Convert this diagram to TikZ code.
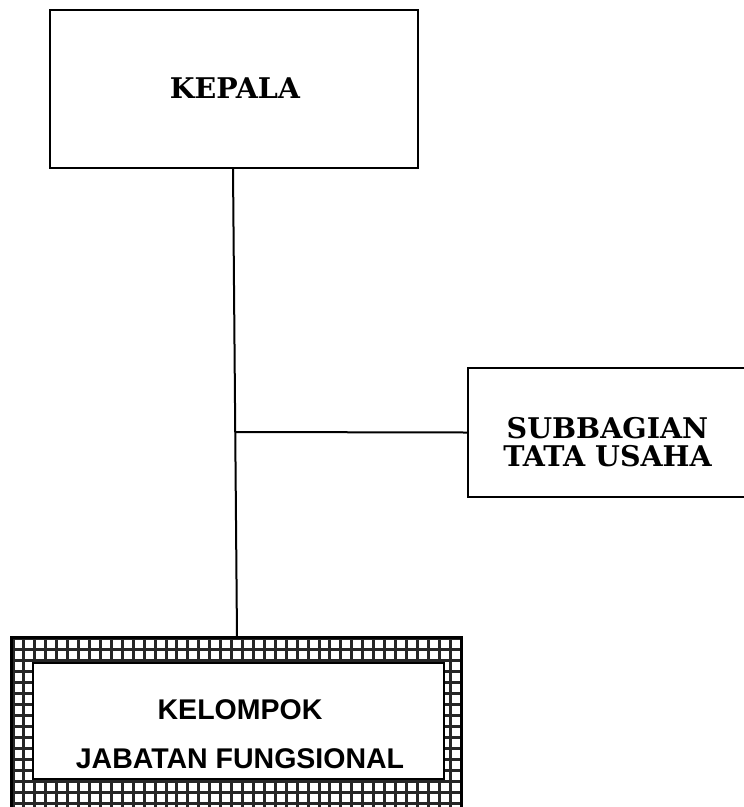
\documentclass[tikz,border=0pt]{standalone}
\usepackage{fontspec}
\newfontfamily\arialfont{Liberation Sans}
\newfontfamily\slabfont{DejaVu Serif}
\begin{document}
\begin{tikzpicture}[x=1pt,y=-1pt,
  box/.style={draw=black,line width=2.3pt,rectangle,inner sep=0pt},
  conn/.style={draw=black,line width=2pt},
  gridline/.style={draw=black!85,line width=3pt},
  serifbold/.style={font=\slabfont\fontsize{28.5}{28}\selectfont\bfseries,align=center,inner sep=0pt},
  sansbold/.style={font=\arialfont\fontsize{28.5}{49}\selectfont\bfseries,align=center,inner sep=0pt}]
\useasboundingbox (0,0) rectangle (744,807);
\clip (0,0) rectangle (744,807);
% KEPALA
\node[box,minimum width=368pt,minimum height=158pt] (kepala) at (234,89) {};
\node[serifbold] (kepalatxt) at (235,88.5) {KEPALA};
% SUBBAGIAN
\node[box,minimum width=282pt,minimum height=129pt] (sub) at (609,432.5) {};
\node[serifbold] (subtxt) at (607.5,442) {SUBBAGIAN\\TATA USAHA};
% KELOMPOK grid box
\node[rectangle,fill=white,minimum width=449pt,minimum height=190pt,inner sep=0pt] (kjf) at (236.5,733) {};
\foreach \i in {0,...,41} {\draw[gridline] ({13+\i*10.93},638) -- ++(0,190);}
\foreach \j in {0,...,16} {\draw[gridline] (12,{638+\j*11}) -- ++(449,0);}
\draw[line width=2.8pt] (kjf.south west) |- (kjf.north east) -- (kjf.south east);
\node[box,fill=white,minimum width=411pt,minimum height=116pt] (kjfin) at (238.5,721) {};
\node[sansbold] (kjftxt) at (240,734.5) {KELOMPOK\\JABATAN FUNGSIONAL};
% connectors
\coordinate (top) at (233,168);
\coordinate (bot) at (237,638);
\coordinate (junc) at (235.2,432);
\draw[conn] (top) -- (bot);
\draw[conn] (junc) -- (sub.west);
\end{tikzpicture}
\end{document}
